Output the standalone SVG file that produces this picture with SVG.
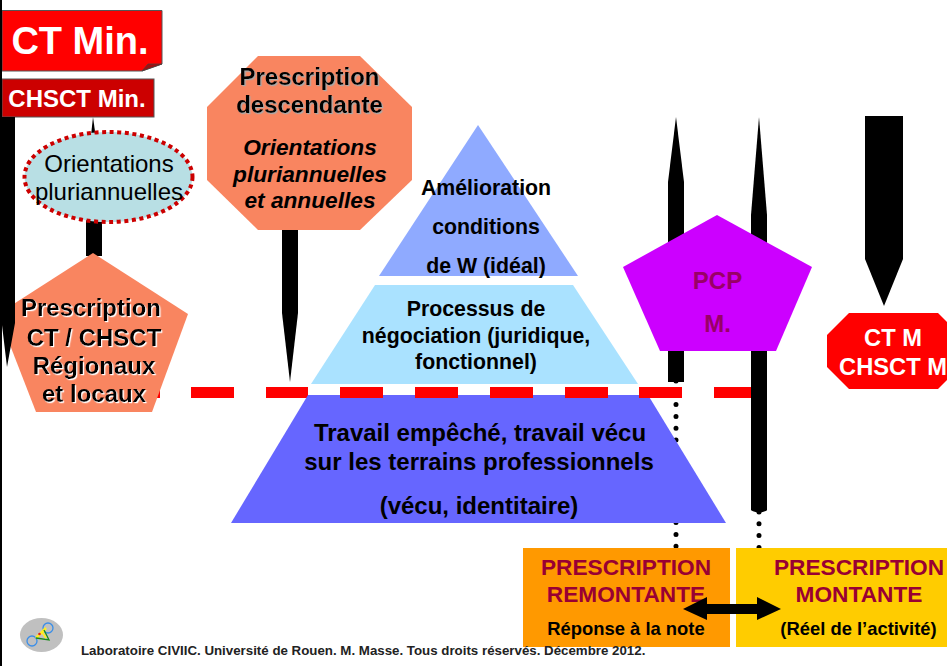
<svg xmlns="http://www.w3.org/2000/svg" width="947" height="666" viewBox="0 0 947 666">
<style>
text{font-family:"Liberation Sans",Arial,sans-serif;font-weight:bold;text-anchor:middle;fill:#000}
.w{fill:#fff}.m{fill:#990033;font-size:22.7px}.p{font-size:24px}.i{font-style:italic;font-size:22.7px}
.t{font-size:21.3px}.n{font-size:21.3px}.b{font-size:24px}
.arrow{fill:#000}
</style>
<defs>
<filter id="sw" x="-10%" y="-20%" width="120%" height="140%"><feDropShadow dx="1.2" dy="1.2" stdDeviation="0" flood-color="#fff"/></filter>
<filter id="sg" x="-10%" y="-20%" width="120%" height="140%"><feDropShadow dx="1.2" dy="1.2" stdDeviation="0" flood-color="#a8a8a8"/></filter>
</defs>
<rect width="947" height="666" fill="#fff"/>
<g id="connectors">
<g id="dotted" fill="none" stroke="#000" stroke-width="5" stroke-linecap="round" stroke-dasharray="0 11.8">
<path d="M676 381V549"/><path d="M759 512V549"/>
</g>
<g id="stems" class="arrow">
<path d="M93 117L102 182V256H86V182Z"/>
<path d="M282 230H298V313L290 382L282 313Z"/>
<path d="M676 117L684 182V382H668V182Z"/>
<path d="M865 116H903V259L884 306L865 259Z"/>
</g>
<g id="dashes" fill="#f00">
<rect x="117" y="387" width="43" height="11"/><rect x="191" y="387" width="43" height="11"/><rect x="266" y="387" width="42" height="11"/><rect x="714" y="387" width="40" height="11"/>
</g>
<path id="stem-montante" class="arrow" d="M759 117L767 215V510Q767 511 759 513Q751 511 751 510V215Z"/>
</g>
<g id="pyramid-bottom"><path d="M308 395H648L726 523H231Z" fill="#6666ff"/>
<text class="b" x="480" y="441">Travail empêché, travail vécu</text><text class="b" x="479" y="470">sur les terrains professionnels</text><text class="b" x="479" y="514">(vécu, identitaire)</text></g>
<g id="dashes-over" fill="#f00"><rect x="340" y="387" width="43" height="11"/><rect x="415" y="387" width="43" height="11"/><rect x="490" y="387" width="43" height="11"/><rect x="565" y="387" width="43" height="11"/><rect x="639" y="387" width="43" height="11"/></g>
<g id="pyramid-middle"><path d="M375 285H573L638 384H311Z" fill="#aae2ff"/>
<text class="n" x="476" y="316">Processus de</text><text class="n" x="476" y="343">négociation (juridique,</text><text class="n" x="476" y="369">fonctionnel)</text></g>
<g id="pyramid-top"><path d="M478 125L578 276H379Z" fill="#8faaff"/>
<text class="t" x="486" y="195">Amélioration</text><text class="t" x="486" y="234">conditions</text><text class="t" x="486" y="273">de W (idéal)</text></g>
<g id="ct-min"><path d="M2 10.5H162V64L142 71H2Z" fill="#f00" stroke="#555" stroke-width="1"/><path d="M142 71L148 64H162Z" fill="#a01010" stroke="#444" stroke-width=".7"/>
<text class="w" x="80" y="54" style="font-size:38px">CT Min.</text></g>
<g id="chsct-min"><rect x="2" y="79" width="152" height="38" fill="#cc0000" stroke="#555" stroke-width="1"/>
<text class="w" x="77" y="107" style="font-size:24px">CHSCT Min.</text></g>
<g id="orientations"><ellipse cx="108.500" cy="177" rx="84" ry="45" fill="#b8dfe4" stroke="#cc0000" stroke-width="4" stroke-dasharray="4 3.6"/>
<text x="109" y="172" style="font-size:24px;font-weight:normal">Orientations</text><text x="109" y="200" style="font-size:24px;font-weight:normal">pluriannuelles</text></g>
<g id="prescription-regionale"><path d="M93 253L188 314L152 412H36L-2 314Z" fill="#f98560"/></g>
<path id="left-bar" class="arrow" d="M0 0H2V117H15V323L7 367L2 325V666H0Z"/>
<g id="prescription-regionale-text" filter="url(#sw)"><text class="p" x="91" y="316">Prescription</text><text class="p" x="94" y="346">CT / CHSCT</text><text class="p" x="94" y="374">Régionaux</text><text class="p" x="94" y="402">et locaux</text></g>
<g id="prescription-descendante"><path d="M258 56H360L412 107V180L360 230H258L207 180V107Z" fill="#f98560"/>
<g filter="url(#sg)"><text class="p" x="309.500" y="85">Prescription</text><text class="p" x="309.500" y="113">descendante</text></g>
<text class="i" x="310" y="155">Orientations</text><text class="i" x="310" y="182">pluriannuelles</text><text class="i" x="310" y="208">et annuelles</text></g>
<g id="pcp"><path d="M717 215L812 267L776 351H660L623 267Z" fill="#cc00ff"/>
<text x="717.500" y="289" style="font-size:24px;fill:#990066">PCP</text><text x="717.500" y="332" style="font-size:24px;fill:#990066">M.</text></g>
<g id="ct-m"><path d="M849 313H938L960 335V367L938 389H849L827 367V335Z" fill="#f00"/>
<text class="w" x="893" y="346" style="font-size:23.700px">CT M</text><text class="w" x="893" y="375" style="font-size:23.700px">CHSCT M</text></g>
<g id="prescription-remontante"><rect x="523" y="548" width="207" height="99" fill="#ff9900"/>
<text class="m" x="626" y="575">PRESCRIPTION</text><text class="m" x="626" y="602">REMONTANTE</text><text x="626" y="635" style="font-size:18.400px">Réponse à la note</text></g>
<g id="prescription-montante"><rect x="736" y="548" width="211" height="99" fill="#ffcc00"/>
<text class="m" x="859" y="575">PRESCRIPTION</text><text class="m" x="859" y="602">MONTANTE</text><text x="858.500" y="635" style="font-size:18.400px">(Réel de l’activité)</text></g>
<path id="double-arrow" class="arrow" d="M683 609L707 597V604H757V597L781 609L757 620V614H707V620Z"/>
<g id="logo"><ellipse cx="41.500" cy="635" rx="21.500" ry="17" fill="#c0c0c0"/>
<circle cx="48" cy="628" r="5" fill="none" stroke="#3a8ee8" stroke-width="1.300"/><circle cx="32" cy="641" r="5" fill="none" stroke="#3a8ee8" stroke-width="1.300"/>
<path d="M36 638L46 628" stroke="#ffee22" stroke-width="2.500" fill="none"/><path d="M36 638L49 640L44 630" fill="none" stroke="#1a8a1a" stroke-width="1.300"/><path d="M42 632L46 638" stroke="#ffee22" stroke-width="2"/><circle cx="39.500" cy="634" r="1.300" fill="#e02020"/></g>
<text id="footer" x="81" y="655" style="font-size:13.3px;text-anchor:start;fill:#222">Laboratoire CIVIIC. Université de Rouen. M. Masse. Tous droits réservés. Décembre 2012.</text>
</svg>
